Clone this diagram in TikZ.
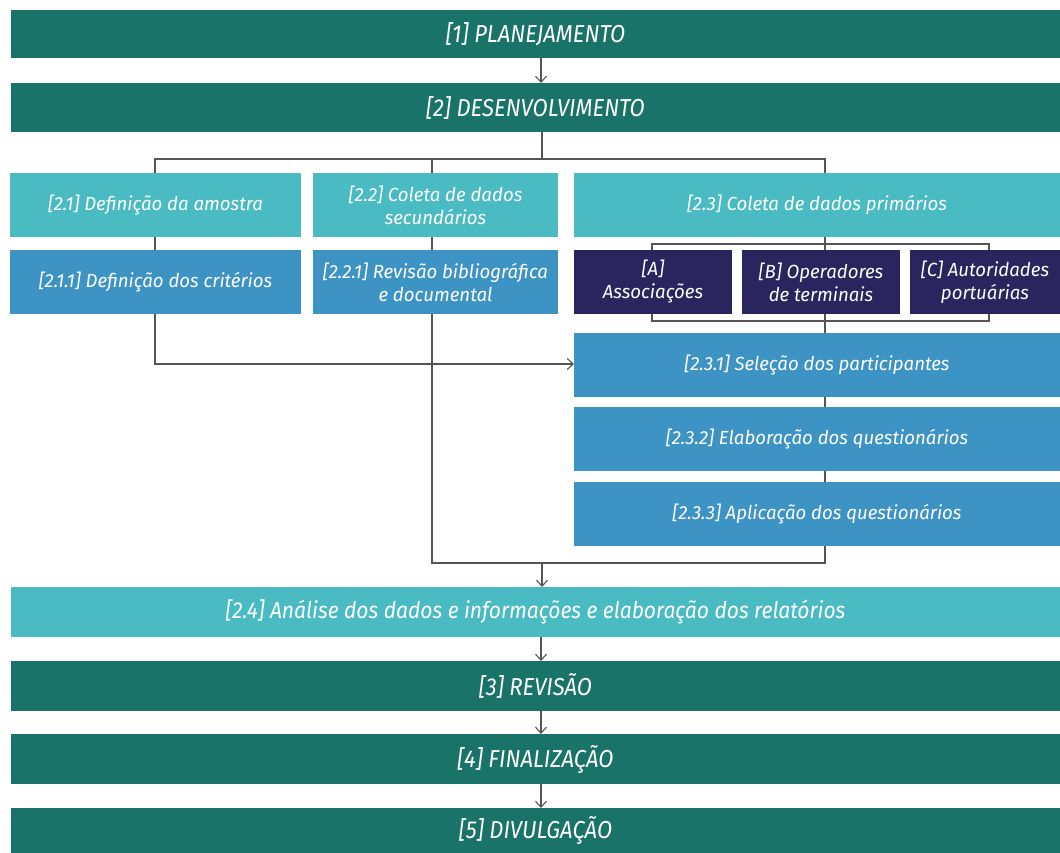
\documentclass[tikz,border=0pt]{standalone}
\usepackage{fontspec}
\setmainfont{Fira Sans}
\newfontfamily\bodyfont{Fira Sans}[FakeStretch=0.98]
\newfontfamily\headfont{Fira Sans}[FakeStretch=0.9]
\newfontfamily\wideheadfont{Fira Sans}[FakeStretch=0.915]
\usetikzlibrary{arrows.meta,backgrounds}
\definecolor{dteal}{HTML}{1A7369}
\definecolor{lteal}{HTML}{4ABBC2}
\definecolor{mblue}{HTML}{3D93C4}
\definecolor{navy}{HTML}{2A255E}
\definecolor{lgray}{HTML}{555555}
\tikzset{
  box/.style={inner sep=0pt, outer sep=0pt, text=white, align=center},
  phase/.style={box, fill=dteal, minimum width=1049pt, font=\headfont\itshape\fontsize{24.5}{28}\selectfont},
  stepbox/.style={box, fill=lteal, minimum height=64pt, font=\bodyfont\itshape\fontsize{19}{23}\selectfont},
  subbox/.style={box, fill=mblue, minimum height=64pt, font=\bodyfont\itshape\fontsize{19}{23}\selectfont},
  actor/.style={box, fill=navy, minimum height=64pt, font=\bodyfont\itshape\fontsize{19}{23}\selectfont},
  wire/.style={draw=lgray, line width=1.1pt},
  arr/.style={wire, -{Straight Barb[length=6pt,width=11pt]}},
}
\begin{document}
\begin{tikzpicture}[x=1pt,y=-1pt]
\useasboundingbox (0,0) rectangle (1060,853);
% phases
\node[phase, minimum height=48pt] (p1) at (535.5,34) {[1] PLANEJAMENTO};
\node[phase, minimum height=49pt] (p2) at (535.5,107.5) {[2] DESENVOLVIMENTO};
% second level
\node[stepbox, minimum width=291pt] (b21) at (155.5,205) {[2.1] Definição da amostra};
\node[stepbox, minimum width=245pt] (b22) at (435.5,205) {[2.2] Coleta de dados\\secundários};
\node[stepbox, minimum width=486pt] (b23) at (817,205) {[2.3] Coleta de dados primários};
\node[subbox, minimum width=291pt] (b211) at (155.5,282) {[2.1.1] Definição dos critérios};
\node[subbox, minimum width=245pt] (b221) at (435.5,282) {[2.2.1] Revisão bibliográfica\\e documental};
\node[actor, minimum width=158pt] (bA) at (653,282) {[A]\\Associações};
\node[actor, minimum width=158pt] (bB) at (821,282) {[B] Operadores\\de terminais};
\node[actor, minimum width=150pt] (bC) at (985,282) {[C] Autoridades\\portuárias};
\node[subbox, minimum width=486pt] (b231) at (817,365) {[2.3.1] Seleção dos participantes};
\node[subbox, minimum width=486pt] (b232) at (817,439) {[2.3.2] Elaboração dos questionários};
\node[subbox, minimum width=486pt] (b233) at (817,514) {[2.3.3] Aplicação dos questionários};
\node[box, fill=lteal, minimum width=1049pt, minimum height=50pt, font=\wideheadfont\itshape\fontsize{23}{26}\selectfont] (b24) at (535.5,612) {[2.4] Análise dos dados e informações e elaboração dos relatórios};
\node[phase, minimum height=50pt] (p3) at (535.5,686) {[3] REVISÃO};
\node[phase, minimum height=50pt] (p4) at (535.5,759) {[4] FINALIZAÇÃO};
\node[phase, minimum height=45pt] (p5) at (535.5,830.5) {[5] DIVULGAÇÃO};
% helper coordinates
\coordinate (cx) at (541,0);
\coordinate (jx) at (542,0);
\coordinate (c1) at (155,0);
\coordinate (c2) at (432,0);
\coordinate (c3) at (825,0);
\coordinate (bl) at (652,0);
\coordinate (br) at (989,0);
\coordinate (hy) at (0,159);
\coordinate (ay) at (0,364);
\coordinate (ty) at (0,244);
\coordinate (by) at (0,321);
\coordinate (my) at (0,563);
\begin{scope}[on background layer]
  % bracket around A, B, C
  \draw[wire] (bl |- ty) rectangle (br |- by);
\end{scope}
% connectors
\draw[arr] (cx |- p1.south) -- (cx |- p2.north);
\draw[wire] (jx |- p2.south) -- (jx |- hy);
\draw[wire] (c1 |- b21.north) -- (c1 |- hy) -- (c3 |- hy) -- (c3 |- b23.north);
\draw[wire] (c2 |- hy) -- (c2 |- b22.north);
\draw[wire] (c1 |- b21.south) -- (c1 |- b211.north);
\draw[wire] (c2 |- b22.south) -- (c2 |- b221.north);
\draw[arr] (c1 |- b211.south) -- (c1 |- ay) -- (b231.west |- ay);
\draw[wire] (c3 |- b23.south) -- (c3 |- bB.north);
\draw[wire] (c3 |- bB.south) -- (c3 |- b231.north);
\draw[wire] (c3 |- b231.south) -- (c3 |- b232.north);
\draw[wire] (c3 |- b232.south) -- (c3 |- b233.north);
\draw[wire] (c2 |- b221.south) -- (c2 |- my) -- (c3 |- my) -- (c3 |- b233.south);
\draw[arr] (jx |- my) -- (jx |- b24.north);
\draw[arr] (cx |- b24.south) -- (cx |- p3.north);
\draw[arr] (cx |- p3.south) -- (cx |- p4.north);
\draw[arr] (cx |- p4.south) -- (cx |- p5.north);
\end{tikzpicture}
\end{document}
